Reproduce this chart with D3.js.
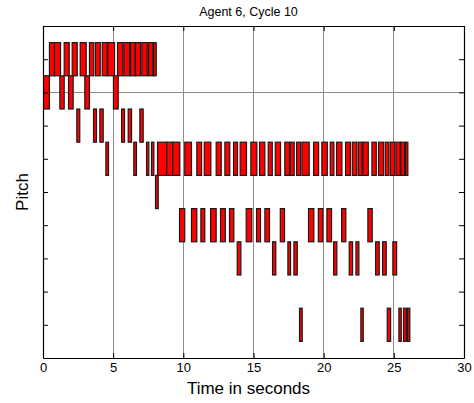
<!DOCTYPE html>
<html><head><meta charset="utf-8">
<script src="https://d3js.org/d3.v7.min.js"></script>
<style>body{margin:0;background:#fff}svg{display:block}</style>
</head><body>
<script>
const title = "Agent 6, Cycle 10";
const xLabel = "Time in seconds";
const yLabel = "Pitch";
const xTicks = [0, 5, 10, 15, 20, 25, 30];
const yTicks = [1, 2, 3, 4, 5, 6, 7, 8, 9];
const gridPitch = [8];
// note [start, end] times per pitch row
const pitch9 = [[0.46,0.82],[0.82,1.25],[1.51,1.87],[2.08,2.44],[2.65,3.08],[3.31,3.62],[3.74,4.08],[4.22,4.58],[4.62,5.1],[5.31,5.69],[5.76,6.17],[6.24,6.57],[6.59,6.95],[7.04,7.43],[7.52,7.83],[7.88,8.07]];
const pitch8 = [[0,0.46],[1.2,1.51],[1.82,2.15],[2.98,3.31],[5.02,5.36]];
const pitch7 = [[2.41,2.62],[3.6,3.81],[4.05,4.29],[5.6,5.81],[6.07,6.31],[6.9,7.14]];
const pitch6 = [[4.48,4.67],[6.47,6.66],[7.38,7.54],[7.73,7.9],[8.16,8.82],[8.82,9.25],[9.25,9.75],[10.1,10.58],[10.96,11.3],[11.49,11.96],[12.34,12.7],[12.96,13.31],[13.58,13.86],[14.05,14.5],[14.81,15.24],[15.43,15.81],[16.05,16.34],[16.55,16.93],[17.23,17.57],[17.62,17.9],[18.07,18.35],[18.45,18.97],[19.28,19.64],[19.87,20.26],[20.47,20.73],[20.92,21.3],[21.56,21.9],[22.04,22.37],[22.47,22.75],[22.8,23.18],[23.44,23.75],[23.91,24.27],[24.39,24.65],[24.75,25.07],[25.15,25.46],[25.5,25.77],[25.84,26.0]];
const pitch5 = [[8.02,8.21]];
const pitch4 = [[9.73,10.1],[10.58,10.96],[11.25,11.53],[11.94,12.34],[12.65,12.99],[13.29,13.6],[14.48,14.88],[15.22,15.5],[15.81,16.14],[16.91,17.21],[18.92,19.3],[19.62,19.94],[20.23,20.56],[21.28,21.58],[23.15,23.46]];
const pitch3 = [[13.84,14.1],[16.36,16.59],[17.45,17.64],[17.88,18.12],[20.71,20.94],[21.82,22.06],[22.3,22.51],[23.7,23.96],[24.2,24.46],[24.93,25.2]];
const pitch1 = [[18.28,18.47],[22.65,22.82],[24.53,24.77],[25.36,25.53],[25.69,25.89],[25.98,26.14]];

const rows = [[9,pitch9],[8,pitch8],[7,pitch7],[6,pitch6],[5,pitch5],[4,pitch4],[3,pitch3],[1,pitch1]];
const notes = [];
rows.forEach(([p, arr]) => arr.forEach(([s, e]) => notes.push({p, s, e})));

const W = 474, H = 403;
const L = 43, R = 464, T = 26, B = 358;
const svg = d3.select("body").append("svg").attr("width", W).attr("height", H)
  .style("font-family", "Arial, 'Liberation Sans', sans-serif");
const x = d3.scaleLinear().domain([0, 30]).range([L, R]);
const y = d3.scaleLinear().domain([0, 10]).range([B, T]);

// grid
svg.append("g").selectAll("line").data(xTicks.filter(d => d > 0 && d < 30)).join("line")
  .attr("x1", d => x(d)).attr("x2", d => x(d)).attr("y1", T).attr("y2", B)
  .attr("stroke", "#8c8c8c").attr("stroke-width", 1).attr("shape-rendering", "crispEdges");
svg.append("g").selectAll("line").data(gridPitch).join("line")
  .attr("x1", L).attr("x2", R).attr("y1", d => y(d)).attr("y2", d => y(d))
  .attr("stroke", "#8c8c8c").attr("stroke-width", 1).attr("shape-rendering", "crispEdges");

// notes
svg.append("clipPath").attr("id", "c").append("rect")
  .attr("x", L).attr("y", T).attr("width", R - L).attr("height", B - T);
svg.append("g").attr("clip-path", "url(#c)").selectAll("rect").data(notes).join("rect")
  .attr("x", d => x(d.s)).attr("width", d => x(d.e) - x(d.s))
  .attr("y", d => y(d.p + 0.5)).attr("height", d => y(d.p - 0.5) - y(d.p + 0.5))
  .attr("fill", "#ff0000").attr("stroke", "#1a1a1a").attr("stroke-width", 1.2);

// axes (MATLAB-like box with inward ticks)
const ax = svg.append("g");
ax.append("g").attr("transform", `translate(0,${B})`)
  .call(d3.axisBottom(x).tickValues(xTicks).tickSizeInner(-5).tickSizeOuter(0).tickPadding(5))
  .call(g => g.selectAll("text").attr("font-size", 13).attr("fill", "#000"));
ax.append("g").attr("transform", `translate(0,${T})`)
  .call(d3.axisTop(x).tickValues(xTicks).tickSizeInner(-5).tickSizeOuter(0).tickFormat(""));
ax.append("g").attr("transform", `translate(${L},0)`)
  .call(d3.axisLeft(y).tickValues(yTicks).tickSizeInner(-5).tickSizeOuter(0).tickFormat(""));
ax.append("g").attr("transform", `translate(${R},0)`)
  .call(d3.axisRight(y).tickValues(yTicks).tickSizeInner(-5).tickSizeOuter(0).tickFormat(""));
ax.selectAll(".domain").attr("stroke", "#000").attr("stroke-width", 1.2);

svg.append("text").attr("x", (L + R) / 2 - 5).attr("y", 16).attr("text-anchor", "middle")
  .attr("font-size", 12.5).text(title);
svg.append("text").attr("x", (L + R) / 2 - 5).attr("y", 394).attr("text-anchor", "middle")
  .attr("font-size", 17).text(xLabel);
svg.append("text").attr("transform", `translate(28,${(T + B) / 2}) rotate(-90)`)
  .attr("text-anchor", "middle").attr("font-size", 17).text(yLabel);
</script>
</body></html>
